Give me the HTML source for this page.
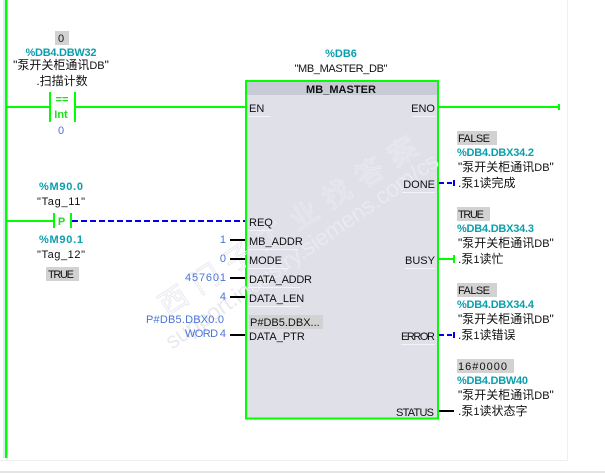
<!DOCTYPE html>
<html><head><meta charset="utf-8"><style>
html,body{margin:0;padding:0;background:#fff}
svg{display:block}
text{font-family:"Liberation Sans","Noto Sans CJK SC",sans-serif;font-size:11px;fill:#111}
.c{font-size:12px}
.c tspan{font-size:11px}
.t{fill:#0a9fae;font-weight:bold}
.b{fill:#4a74d8}
.e{text-anchor:end}
.m{text-anchor:middle}
</style></head><body>
<svg width="605" height="473" viewBox="0 0 605 473" xmlns="http://www.w3.org/2000/svg">
<rect width="605" height="473" fill="#fff"/>
<rect x="567" y="0" width="1" height="460" fill="#efefef"/>
<rect x="0" y="460" width="568" height="1" fill="#efefef"/>
<rect x="0" y="471" width="605" height="2" fill="#e4e4e4"/>
<rect x="3" y="0" width="2" height="458" fill="#d8eef2"/>
<rect x="5" y="0" width="2.500" height="458" fill="#00ff00"/>

<!-- block -->
<rect x="246" y="81" width="192" height="337.500" fill="#dfe0e8" stroke="#00ff00" stroke-width="2"/>
<rect x="247" y="82" width="190" height="13" fill="#c8cad6"/>

<!-- watermark -->
<g transform="translate(167 316) rotate(-33)">
<text x="0" y="0" style="font-size:28px;letter-spacing:11px;fill:none;stroke:#e9eaef;stroke-width:1">西门子工业找答案</text>
</g>
<g transform="translate(172 350) rotate(-34.600)">
<text x="0" y="0" textLength="326" style="font-size:23px;fill:#e9eaef">support.industry.siemens.com/cs</text>
</g>

<text x="341" y="93" class="m" style="font-weight:bold" textLength="70">MB_MASTER</text>
<g fill="#f4f4f8">
<rect x="248" y="116" width="22" height="1"/>
<rect x="412" y="116" width="24" height="1"/>
<rect x="402" y="192" width="33" height="1"/>
<rect x="405" y="268" width="30" height="1"/>
<rect x="401" y="344" width="34" height="1"/>
<rect x="248" y="230" width="25" height="1"/>
<rect x="248" y="249" width="50" height="1"/>
<rect x="248" y="268" width="40" height="1"/>
<rect x="248" y="287" width="52" height="1"/>
<rect x="248" y="306" width="52" height="1"/>
</g>

<!-- top rung -->
<rect x="7" y="106" width="43" height="2" fill="#00ff00"/>
<rect x="49" y="92" width="2" height="30" fill="#00ff00"/>
<rect x="74" y="92" width="2" height="30" fill="#00ff00"/>
<rect x="76" y="106" width="169" height="2" fill="#00ff00"/>
<text x="62" y="103" class="m" style="font-weight:bold;fill:#22dd22">==</text>
<text x="61" y="118" class="m" style="font-weight:bold;fill:#22dd22">Int</text>
<rect x="55" y="31" width="14" height="14" fill="#d2d2d2"/>
<text x="61" y="42" class="m">0</text>
<text x="61" y="56" class="m t" textLength="71">%DB4.DBW32</text>
<text x="61" y="69" class="m c">"泵开关柜通讯<tspan>DB</tspan>"</text>
<text x="62" y="85" class="m c">.扫描计数</text>
<text x="61" y="134" class="m b">0</text>

<!-- second rung -->
<text x="61" y="190" class="m t" textLength="44">%M90.0</text>
<text x="61" y="205" class="m" textLength="48">"Tag_11"</text>
<rect x="7" y="220" width="47" height="2" fill="#00ff00"/>
<rect x="53" y="213" width="2" height="15" fill="#00ff00"/>
<rect x="70" y="213" width="2" height="15" fill="#00ff00"/>
<text x="61.500" y="225" class="m" style="font-weight:bold;fill:#22dd22">P</text>
<line x1="72" y1="221" x2="245" y2="221" stroke="#0000ee" stroke-width="2" stroke-dasharray="6 3"/>
<text x="61" y="243" class="m t" textLength="44">%M90.1</text>
<text x="61" y="258" class="m" textLength="48">"Tag_12"</text>
<rect x="46" y="267" width="33" height="14" fill="#d2d2d2"/>
<text x="48" y="278" textLength="26">TRUE</text>

<!-- instance -->
<text x="341" y="57" class="m t">%DB6</text>
<text x="341" y="72" class="m" textLength="93">"MB_MASTER_DB"</text>

<!-- inputs -->
<text x="249" y="112">EN</text>
<text x="249" y="226">REQ</text>
<text x="249" y="245">MB_ADDR</text>
<text x="249" y="264">MODE</text>
<text x="249" y="283" textLength="63">DATA_ADDR</text>
<text x="249" y="302">DATA_LEN</text>
<rect x="249" y="315" width="74" height="14" fill="#d2d2d2"/>
<text x="250" y="326">P#DB5.DBX...</text>
<text x="249" y="340">DATA_PTR</text>
<g fill="#000">
<rect x="230" y="239" width="15" height="2"/>
<rect x="230" y="258" width="15" height="2"/>
<rect x="230" y="277" width="15" height="2"/>
<rect x="230" y="296" width="15" height="2"/>
<rect x="230" y="334" width="15" height="2"/>
</g>
<text x="226" y="243" class="e b">1</text>
<text x="226" y="262" class="e b">0</text>
<text x="226" y="281" class="b" textLength="41" transform="translate(-41 0)">457601</text>
<text x="226" y="300" class="e b">4</text>
<text x="146" y="323" class="b" textLength="78">P#DB5.DBX0.0</text>
<text x="185" y="337" class="b" textLength="41">WORD 4</text>

<!-- outputs -->
<text x="435" y="112" class="e">ENO</text>
<text x="435" y="188" class="e">DONE</text>
<text x="435" y="264" class="e">BUSY</text>
<text x="401" y="340" textLength="34">ERROR</text>
<text x="396" y="416" textLength="38">STATUS</text>

<rect x="439" y="106" width="120" height="2" fill="#00ff00"/>
<rect x="558" y="104" width="2" height="6" fill="#00ff00"/>
<line x1="439" y1="183" x2="454" y2="183" stroke="#0000ee" stroke-width="2" stroke-dasharray="5 3"/>
<rect x="453" y="180" width="2" height="6" fill="#0000ee"/>
<rect x="439" y="258" width="15" height="2" fill="#00ff00"/>
<rect x="453" y="255" width="2" height="8" fill="#00ff00"/>
<line x1="439" y1="335" x2="454" y2="335" stroke="#0000ee" stroke-width="2" stroke-dasharray="5 3"/>
<rect x="453" y="332" width="2" height="6" fill="#0000ee"/>
<rect x="439" y="410" width="15" height="2" fill="#000"/>

<rect x="457" y="131" width="40" height="14" fill="#d2d2d2"/>
<text x="458" y="142" textLength="32">FALSE</text>
<text x="457" y="156" class="t" textLength="77">%DB4.DBX34.2</text>
<text x="458" y="171" class="c">"泵开关柜通讯<tspan>DB</tspan>"</text>
<text x="458" y="187" class="c">.泵<tspan>1</tspan>读完成</text>

<rect x="457" y="207" width="33" height="14" fill="#d2d2d2"/>
<text x="458" y="218" textLength="26">TRUE</text>
<text x="457" y="232" class="t" textLength="77">%DB4.DBX34.3</text>
<text x="458" y="247" class="c">"泵开关柜通讯<tspan>DB</tspan>"</text>
<text x="458" y="263" class="c">.泵<tspan>1</tspan>读忙</text>

<rect x="457" y="283" width="40" height="14" fill="#d2d2d2"/>
<text x="458" y="294" textLength="32">FALSE</text>
<text x="457" y="308" class="t" textLength="77">%DB4.DBX34.4</text>
<text x="458" y="323" class="c">"泵开关柜通讯<tspan>DB</tspan>"</text>
<text x="458" y="339" class="c">.泵<tspan>1</tspan>读错误</text>

<rect x="457" y="359" width="57" height="14" fill="#d2d2d2"/>
<text x="458" y="370" textLength="49">16#0000</text>
<text x="457" y="384" class="t" textLength="71">%DB4.DBW40</text>
<text x="458" y="399" class="c">"泵开关柜通讯<tspan>DB</tspan>"</text>
<text x="458" y="415" class="c">.泵<tspan>1</tspan>读状态字</text>
</svg>
</body></html>
